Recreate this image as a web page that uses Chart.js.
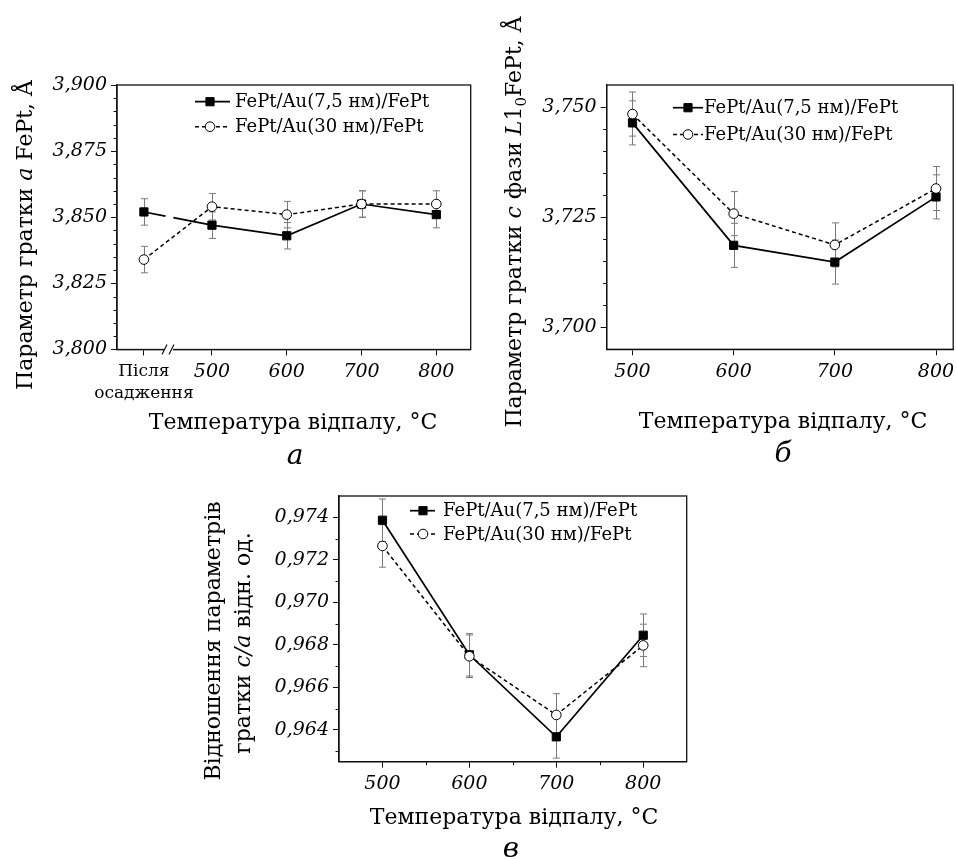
<!DOCTYPE html>
<html><head><meta charset="utf-8">
<script src="https://cdn.jsdelivr.net/npm/chart.js@4.4.1/dist/chart.umd.min.js"></script>
<style>
html,body{margin:0;padding:0;background:#fff;width:956px;height:859px;overflow:hidden;}
#wrap{position:relative;width:956px;height:859px;overflow:hidden;}
canvas{position:absolute;}
</style></head><body>
<div id="wrap"><canvas id="ca"></canvas><canvas id="cb"></canvas><canvas id="cc"></canvas></div>
<script>
// ---------------- DATA ----------------
const seriesLabels = ['FePt/Au(7,5 нм)/FePt', 'FePt/Au(30 нм)/FePt'];

// panel a: lattice parameter a of FePt, Å
const categoriesA = ['Після осадження', '500', '600', '700', '800'];
const aLattice75 = [3.852, 3.847, 3.843, 3.855, 3.851];
const aLattice30 = [3.834, 3.854, 3.851, 3.855, 3.855];
const aErr75 = [0.005, 0.005, 0.005, 0.005, 0.005];
const aErr30 = [0.005, 0.005, 0.005, 0.005, 0.005];
const yTicksA = [3.800, 3.825, 3.850, 3.875, 3.900];

// panel б: lattice parameter c of L1_0 FePt, Å
const tempsB = [500, 600, 700, 800];
const cLattice75 = [3.7464, 3.7186, 3.7148, 3.7296];
const cLattice30 = [3.7484, 3.7258, 3.7187, 3.7315];
const cErr75 = [0.005, 0.005, 0.005, 0.005];
const cErr30 = [0.005, 0.005, 0.005, 0.005];
const yTicksB = [3.700, 3.725, 3.750];

// panel в: c/a ratio
const tempsC = [500, 600, 700, 800];
const ratio75 = [0.97386, 0.96753, 0.96367, 0.96845];
const ratio30 = [0.97265, 0.96746, 0.96470, 0.96797];
const ratioErr75 = [0.001, 0.001, 0.001, 0.001];
const ratioErr30 = [0.001, 0.001, 0.001, 0.001];
const yTicksC = [0.964, 0.966, 0.968, 0.970, 0.972, 0.974];

const xTicksT = [500, 600, 700, 800];

// ---------------- STYLE / LAYOUT ----------------
const FAM = "'DejaVu Serif', 'Liberation Serif', serif";
const up = n => `${n}px ${FAM}`;
const it = n => `italic ${n}px ${FAM}`;
const TS = 22; // axis title size
const asDepositedX = 409; // axis position of the "as deposited" state (before the axis break)
const xA = categoriesA.map((c, i) => i === 0 ? asDepositedX : Number(c));

function makeDatasets(xs, v1, e1, v2, e2, firstSegDash) {
  return [
    { label: seriesLabels[0], data: xs.map((x, i) => ({x, y: v1[i]})), errors: e1, order: 1,
      borderColor: '#000', borderWidth: 1.7, pointStyle: 'rect', pointRadius: 5.8,
      pointBackgroundColor: '#000', pointBorderColor: '#000', pointBorderWidth: 1, tension: 0,
      segment: firstSegDash ? { borderDash: c => c.p0DataIndex === 0 ? [22, 8, 80, 0] : undefined } : undefined },
    { label: seriesLabels[1], data: xs.map((x, i) => ({x, y: v2[i]})), errors: e2, order: 0,
      borderColor: '#000', borderWidth: 1.5, borderDash: [4, 3], pointStyle: 'circle', pointRadius: 4.8,
      pointBackgroundColor: '#fff', pointBorderColor: '#000', pointBorderWidth: 1, tension: 0 }
  ];
}

function drawRich(ctx, segs, cx, cy, rot) {
  ctx.save(); ctx.translate(cx, cy); if (rot) ctx.rotate(rot);
  ctx.textBaseline = 'alphabetic'; ctx.textAlign = 'left'; ctx.fillStyle = '#000';
  let total = 0;
  segs.forEach(s => { ctx.font = s.f; s.w = ctx.measureText(s.t).width; total += s.w; });
  let x = -total / 2;
  segs.forEach(s => { ctx.font = s.f; ctx.fillText(s.t, x, s.dy || 0); x += s.w; });
  ctx.restore();
}

function makeDecor(P) {
  return {
    id: 'decor',
    beforeDatasetsDraw(chart) {
      const ctx = chart.ctx, ys = chart.scales.y;
      ctx.save(); ctx.strokeStyle = '#7a7a7a'; ctx.lineWidth = 1;
      chart.data.datasets.forEach((ds, i) => {
        const meta = chart.getDatasetMeta(i);
        ds.data.forEach((p, j) => {
          const e = ds.errors[j], x = Math.round(meta.data[j].x) + 0.5;
          const y1 = ys.getPixelForValue(p.y + e), y2 = ys.getPixelForValue(p.y - e);
          ctx.beginPath();
          ctx.moveTo(x, y1); ctx.lineTo(x, y2);
          ctx.moveTo(x - 3.5, y1); ctx.lineTo(x + 3.5, y1);
          ctx.moveTo(x - 3.5, y2); ctx.lineTo(x + 3.5, y2);
          ctx.stroke();
        });
      });
      ctx.restore();
    },
    afterDraw(chart) {
      const ctx = chart.ctx, a = chart.chartArea, ys = chart.scales.y, xs = chart.scales.x;
      const ox = P.ox, oy = P.oy;
      ctx.save();
      // frame
      ctx.strokeStyle = '#111'; ctx.lineWidth = 1.3;
      ctx.strokeRect(a.left, a.top, a.right - a.left, a.bottom - a.top);
      // minor ticks
      ctx.lineWidth = 1; ctx.beginPath();
      if (P.yMinor) {
        const n = Math.round((ys.max - ys.min) / P.yMinor);
        for (let k = 0; k <= n + 1; k++) {
          const v = Math.ceil(ys.min / P.yMinor - 1e-6) * P.yMinor + k * P.yMinor;
          if (v <= ys.min + 1e-9 || v >= ys.max - 1e-9) continue;
          if (P.yTicks.some(t => Math.abs(t - v) < P.yMinor / 10)) continue;
          const y = Math.round(ys.getPixelForValue(v)) + 0.5;
          ctx.moveTo(a.left - 3.5, y); ctx.lineTo(a.left, y);
        }
      }
      if (P.xMinor) {
        for (let v = Math.ceil(xs.min / P.xMinor) * P.xMinor; v < xs.max; v += P.xMinor) {
          if (v <= xs.min || P.xTicks.includes(v)) continue;
          const x = Math.round(xs.getPixelForValue(v)) + 0.5;
          ctx.moveTo(x, a.bottom); ctx.lineTo(x, a.bottom + 3.5);
        }
      }
      ctx.stroke();
      // axis break
      if (P.breakX) {
        const bx = P.breakX - ox, by = a.bottom;
        ctx.fillStyle = '#fff'; ctx.fillRect(bx - 4, by - 2, 9, 4);
        ctx.beginPath(); ctx.lineWidth = 1.2;
        ctx.moveTo(bx - 6, by + 5); ctx.lineTo(bx - 1, by - 5);
        ctx.moveTo(bx + 1, by + 5); ctx.lineTo(bx + 6, by - 5);
        ctx.stroke();
      }
      // legend
      const L = P.legend;
      chart.data.datasets.forEach((ds, i) => {
        const y = L.rows[i] - oy;
        ctx.save();
        ctx.strokeStyle = '#000'; ctx.lineWidth = ds.borderWidth;
        ctx.setLineDash(ds.borderDash || []);
        ctx.beginPath(); ctx.moveTo(L.x0 - ox, y); ctx.lineTo(L.x1 - ox, y); ctx.stroke();
        ctx.setLineDash([]);
        ctx.fillStyle = ds.pointBackgroundColor; ctx.strokeStyle = ds.pointBorderColor; ctx.lineWidth = 1;
        Chart.helpers.drawPoint(ctx, { pointStyle: ds.pointStyle, radius: ds.pointRadius, rotation: 0, borderWidth: 1 }, L.mx - ox, y);
        ctx.fillStyle = '#000'; ctx.font = up(18); ctx.textBaseline = 'middle'; ctx.textAlign = 'left';
        ctx.fillText(ds.label, L.tx - ox, y + 1);
        ctx.restore();
      });
      // titles
      P.yTitles.forEach(t => drawRich(ctx, t.segs, t.x - ox, t.y - oy, -Math.PI / 2));
      drawRich(ctx, [{t: 'Температура відпалу, °C', f: up(TS)}], P.xTitle.x - ox, P.xTitle.y - oy, 0);
      drawRich(ctx, [{t: P.panel.t, f: it(28)}], P.panel.x - ox, P.panel.y - oy, 0);
      ctx.restore();
    }
  };
}

function panel(id, P) {
  const cv = document.getElementById(id);
  cv.width = P.w; cv.height = P.h;
  Object.assign(cv.style, {left: P.ox + 'px', top: P.oy + 'px', width: P.w + 'px', height: P.h + 'px'});
  const L = P.area.l - P.ox, T = P.area.t - P.oy, R = P.area.r - P.ox, B = P.area.b - P.oy;
  return new Chart(cv, {
    type: 'line',
    data: { datasets: P.datasets },
    options: {
      responsive: false, animation: false, devicePixelRatio: 1,
      layout: { padding: { left: 0, top: T, right: P.w - R, bottom: 0 } },
      plugins: { legend: { display: false }, tooltip: { enabled: false } },
      scales: {
        x: {
          type: 'linear', min: P.xMin, max: P.xMax,
          afterFit: s => { s.height = P.h - B; s.paddingLeft = 0; s.paddingRight = 0; },
          afterBuildTicks: s => { s.ticks = P.xTicks.map(v => ({value: v})); },
          ticks: { callback: P.xLabel, font: P.xFont, color: '#000', padding: 5, maxRotation: 0, autoSkip: false },
          grid: { drawOnChartArea: false, tickLength: 6, color: '#111', tickWidth: 1 },
          border: { color: '#111', width: 1.3 }
        },
        y: {
          type: 'linear', min: P.yMin, max: P.yMax,
          afterFit: s => { s.width = L; s.paddingTop = 0; s.paddingBottom = 0; },
          afterBuildTicks: s => { s.ticks = P.yTicks.map(v => ({value: v})); },
          ticks: { callback: v => v.toFixed(3).replace('.', ','), font: {family: FAM, size: 19, style: 'italic'}, color: '#000', padding: 4 },
          grid: { drawOnChartArea: false, tickLength: 6, color: '#111', tickWidth: 1 },
          border: { color: '#111', width: 1.3 }
        }
      }
    },
    plugins: [makeDecor(P)]
  });
}

const tickFont = {family: FAM, size: 19, style: 'italic'};

panel('ca', {
  ox: 0, oy: 0, w: 480, h: 470,
  area: {l: 117, t: 85, r: 470.7, b: 349.5},
  xMin: 373, xMax: 846, yMin: 3.800, yMax: 3.900,
  xTicks: xA, yTicks: yTicksA, yMinor: 0.005, breakX: 168,
  xLabel: v => { const i = xA.indexOf(v); return i === 0 ? categoriesA[0].split(' ') : categoriesA[i]; },
  xFont: c => c.index === 0 ? {family: FAM, size: 17, style: 'normal', lineHeight: 1.3} : tickFont,
  datasets: makeDatasets(xA, aLattice75, aErr75, aLattice30, aErr30, true),
  legend: {rows: [101.7, 126.7], x0: 195, x1: 230, mx: 210, tx: 235},
  yTitles: [{x: 32, y: 235, segs: [{t: 'Параметр гратки ', f: up(TS)}, {t: 'a', f: it(TS)}, {t: ' FePt, Å', f: up(TS)}]}],
  xTitle: {x: 293, y: 429},
  panel: {t: 'a', x: 295, y: 464}
});

panel('cb', {
  ox: 490, oy: 0, w: 470, h: 470,
  area: {l: 606.7, t: 85, r: 956, b: 349.3},
  xMin: 474.5, xMax: 817, yMin: 3.695, yMax: 3.755,
  xTicks: xTicksT, yTicks: yTicksB, yMinor: 0.005,
  xLabel: v => String(v), xFont: tickFont,
  datasets: makeDatasets(tempsB, cLattice75, cErr75, cLattice30, cErr30, false),
  legend: {rows: [107.7, 134.5], x0: 673, x1: 703, mx: 688, tx: 704},
  yTitles: [{x: 521, y: 222, segs: [{t: 'Параметр гратки ', f: up(TS)}, {t: 'c', f: it(TS)}, {t: ' фази ', f: up(TS)},
                                   {t: 'L', f: it(TS)}, {t: '1', f: up(TS)}, {t: '0', f: up(15), dy: 5}, {t: 'FePt, Å', f: up(TS)}]}],
  xTitle: {x: 783, y: 428},
  panel: {t: 'б', x: 783, y: 462}
});

panel('cc', {
  ox: 190, oy: 470, w: 530, h: 389,
  area: {l: 339, t: 496, r: 686.7, b: 761.7},
  xMin: 450, xMax: 850, yMin: 0.9625, yMax: 0.975,
  xTicks: xTicksT, yTicks: yTicksC, yMinor: 0.001, xMinor: 50,
  xLabel: v => String(v), xFont: tickFont,
  datasets: makeDatasets(tempsC, ratio75, ratioErr75, ratio30, ratioErr30, false),
  legend: {rows: [510.7, 534], x0: 410, x1: 435, mx: 423, tx: 443},
  yTitles: [
    {x: 220, y: 641, segs: [{t: 'Відношення параметрів', f: up(TS)}]},
    {x: 250, y: 643, segs: [{t: 'гратки ', f: up(TS)}, {t: 'c/a', f: it(TS)}, {t: ' відн. од.', f: up(TS)}]}
  ],
  xTitle: {x: 514, y: 824},
  panel: {t: 'в', x: 511, y: 857}
});
</script>
</body></html>
